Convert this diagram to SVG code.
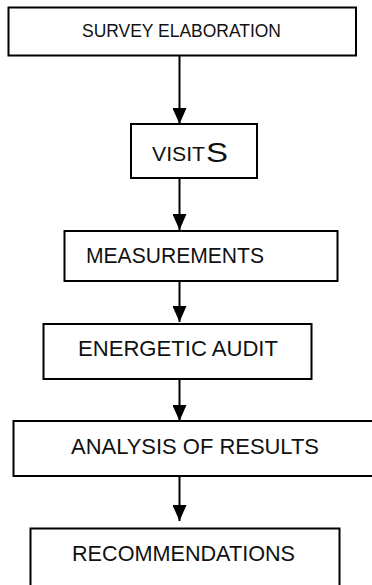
<svg xmlns="http://www.w3.org/2000/svg" width="372" height="585" viewBox="0 0 372 585">
<defs>
<style>
.box{fill:#fff;stroke:#000;stroke-width:2}
.lbl{font-family:"Liberation Sans",Arial,sans-serif;fill:#111;font-size:22px}
.conn line{stroke:#000;stroke-width:2}
</style>
<marker id="ah" viewBox="0 0 16 14" refX="16" refY="7" markerWidth="16" markerHeight="14" markerUnits="userSpaceOnUse" orient="auto">
<path d="M0,0 L16,7 L0,14 Z" fill="#000"/>
</marker>
</defs>
<rect width="372" height="585" fill="#fff"/>
<g id="connectors" class="conn">
<line x1="179.5" y1="56" x2="179.5" y2="124" marker-end="url(#ah)"/>
<line x1="179.5" y1="178" x2="179.5" y2="230" marker-end="url(#ah)"/>
<line x1="179.5" y1="277" x2="179.5" y2="322" marker-end="url(#ah)"/>
<line x1="179.5" y1="379" x2="179.5" y2="421" marker-end="url(#ah)"/>
<line x1="179.5" y1="476" x2="179.5" y2="521" marker-end="url(#ah)"/>
</g>
<g id="survey">
<rect class="box" x="8.5" y="7.5" width="347.5" height="48"/>
<text class="lbl" x="82" y="37" style="font-size:18px" textLength="199" lengthAdjust="spacingAndGlyphs">SURVEY ELABORATION</text>
</g>
<g id="visits">
<rect class="box" x="131" y="124" width="126" height="54"/>
<text class="lbl" x="152" y="161" style="font-size:20px" textLength="53" lengthAdjust="spacingAndGlyphs">VISIT</text>
<text class="lbl" x="206" y="161.5" style="font-size:28px" textLength="22" lengthAdjust="spacingAndGlyphs">S</text>
</g>
<g id="measurements">
<rect class="box" x="64.5" y="231" width="273" height="50"/>
<text class="lbl" x="86" y="263" textLength="178" lengthAdjust="spacingAndGlyphs">MEASUREMENTS</text>
</g>
<g id="audit">
<rect class="box" x="43.5" y="324" width="268" height="55"/>
<text class="lbl" x="78" y="355.5" textLength="200" lengthAdjust="spacingAndGlyphs">ENERGETIC AUDIT</text>
</g>
<g id="analysis">
<rect class="box" x="13.5" y="421" width="370" height="55"/>
<text class="lbl" x="71" y="454" textLength="248" lengthAdjust="spacingAndGlyphs">ANALYSIS OF RESULTS</text>
</g>
<g id="recommendations">
<rect class="box" x="30.5" y="528.5" width="309" height="70"/>
<text class="lbl" x="72" y="560.5" textLength="223" lengthAdjust="spacingAndGlyphs">RECOMMENDATIONS</text>
</g>
</svg>
